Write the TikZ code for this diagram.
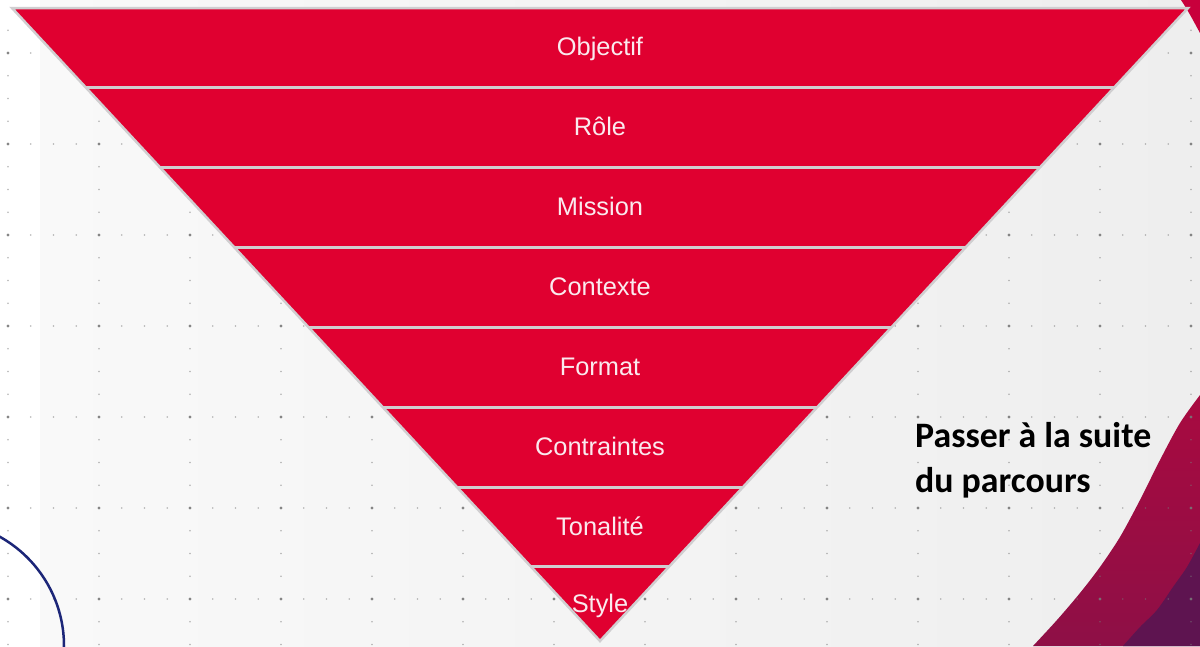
\documentclass[tikz,border=0pt]{standalone}
\usepackage{fontspec}
\setmainfont{Liberation Sans}
\newfontfamily\calfont{Carlito}

\definecolor{bandred}{RGB}{224,0,48}
\definecolor{bandsep}{RGB}{208,206,208}
\definecolor{labelwhite}{RGB}{250,234,238}
\definecolor{swooshtop}{RGB}{168,10,64}
\definecolor{swooshbottom}{RGB}{142,15,70}
\definecolor{cornerred}{RGB}{200,0,60}
\definecolor{plum}{RGB}{94,20,80}
\definecolor{navy}{RGB}{28,38,120}
\definecolor{dotgray}{RGB}{120,120,120}
\definecolor{paperleft}{RGB}{249,249,249}
\definecolor{paperright}{RGB}{238,238,238}

\begin{document}
\begin{tikzpicture}[x=1pt,y=-1pt,
  bandlabel/.style={anchor=base, text=labelwhite, inner sep=0pt,
    font=\fontsize{25.4}{30}\selectfont},
  smalldot/.style={fill=dotgray, opacity=.55},
  bigdot/.style={fill=dotgray, opacity=.8}]
\useasboundingbox (0,0) rectangle (1200,646);
\clip (0,0) rectangle (1200,646);

% paper background
\fill[white] (0,0) rectangle (40,646);
\shade[left color=paperleft, right color=paperright] (40,0) rectangle (1200,646);

% corner and swoosh on the right
\fill[cornerred] (1181,0) .. controls (1189,12) and (1195,24) .. (1200,33) -- (1200,0) -- cycle;
\shade[top color=swooshtop, bottom color=swooshbottom]
  plot[smooth] coordinates {(1033,646) (1057,620) (1080,593) (1100,567) (1120,537)
    (1140,500) (1160,460) (1180,423) (1200,395)} -- (1200,646) -- cycle;
\fill[plum]
  plot[smooth] coordinates {(1123,646) (1140,627) (1157,610) (1173,587) (1187,567)
    (1200,543)} -- (1200,646) -- cycle;

% dotted grid
\foreach \i in {0,...,13}
  \foreach \k in {0,...,27}
    \fill[smalldot] ({8+91*\i},{30.25+22.75*\k}) circle (0.9);
\foreach \j in {0,...,6}
  \foreach \k in {0,...,52}
    \fill[smalldot] ({8+22.75*\k},{53+91*\j}) circle (0.9);
\foreach \i in {0,...,13}
  \foreach \j in {0,...,6}
    \fill[bigdot] ({8+91*\i},{53+91*\j}) circle (1.7);

% navy ring in the lower left corner
\draw[navy, line width=2.5] (-61,646) circle (125);

% inverted pyramid
\coordinate (tl) at (12,8);
\coordinate (tr) at (1188,8);
\coordinate (apex) at (600,641);
\filldraw[fill=bandred, draw=bandsep, line width=2.5] (tl) -- (tr) -- (apex) -- cycle;
\begin{scope}
  \clip (tl) -- (tr) -- (apex) -- cycle;
  \foreach \y in {87,167,247,327,407,487,566}
    \draw[bandsep, line width=3] (0,\y) -- (1200,\y);
\end{scope}

\node[bandlabel] (objectif)    at (600,55)    {Objectif};
\node[bandlabel] (role)        at (600,135)   {Rôle};
\node[bandlabel] (mission)     at (600,215)   {Mission};
\node[bandlabel] (contexte)    at (600,295)   {Contexte};
\node[bandlabel] (format)      at (600,375)   {Format};
\node[bandlabel] (contraintes) at (600,455)   {Contraintes};
\node[bandlabel] (tonalite)    at (600,535)   {Tonalité};
\node[bandlabel] (style)       at (600,612)   {Style};

% call to action
\node[anchor=base west, align=left, inner sep=0pt,
  font=\calfont\bfseries\fontsize{35.8}{45}\selectfont] (suite) at (915,492)
  {Passer à la suite\\du parcours};
\end{tikzpicture}
\end{document}
